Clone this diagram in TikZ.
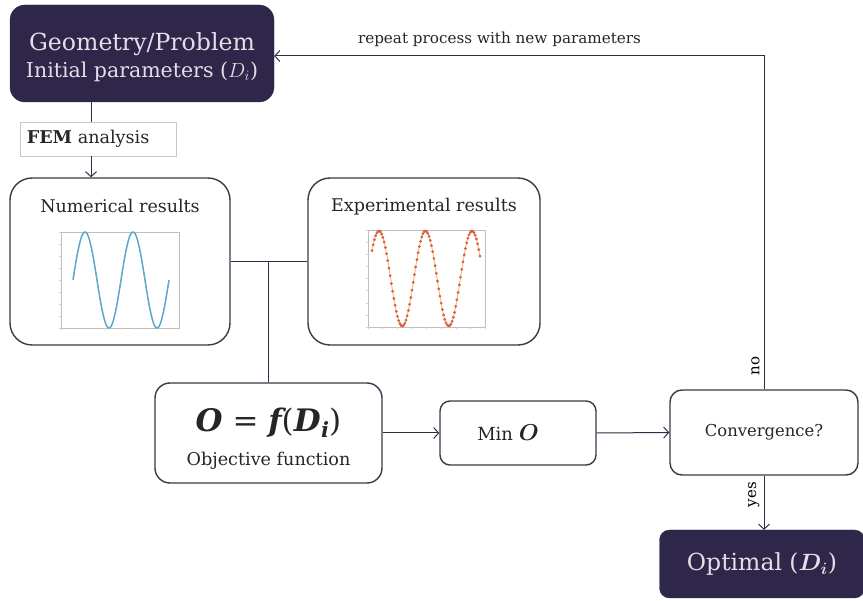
\documentclass[tikz,border=0pt]{standalone}
\usepackage{fix-cm}
\usepackage{amsmath}
\usepackage{bm}
\usepackage{fontspec}
\setmainfont{DejaVu Serif}
\usetikzlibrary{positioning,arrows.meta,calc}
\definecolor{boxpurple}{HTML}{2F2749}
\definecolor{boxtext}{HTML}{E2DFE8}
\definecolor{edgegray}{HTML}{3A3A4A}
\definecolor{linedark}{HTML}{2D2F45}
\definecolor{femgray}{HTML}{C8C8C8}
\definecolor{sineblue}{HTML}{5EA8CC}
\definecolor{dotred}{HTML}{D9603E}
\definecolor{dotorange}{HTML}{F4BE8C}
\definecolor{axisgray}{HTML}{C4BCBC}
\newcommand{\fsz}[1]{\fontsize{#1}{#1}\selectfont}
\newcommand{\bi}[1]{{\bfseries\itshape #1}}

\begin{document}
\begin{tikzpicture}[x=1pt, y=-1pt,
  darkbox/.style={fill=boxpurple, draw=boxpurple, rounded corners=#1,
    text=boxtext, align=center, inner sep=0pt},
  whitebox/.style={fill=white, draw=edgegray, line width=1.4pt,
    rounded corners=#1, align=center, inner sep=0pt, text=black!85},
  boxlabel/.style={inner sep=0pt, text=black!85},
  conn/.style={draw=linedark, line width=1pt},
  arr/.style={conn, -{Straight Barb[length=5pt, width=11pt]}},
  frame/.style={draw=axisgray, line width=0.5pt},
  tick/.style={draw=axisgray!70, line width=0.4pt}
]
\useasboundingbox (0,0) rectangle (863,601);

% boxes
\node[darkbox=15pt, minimum width=264pt, minimum height=97pt] (geo) at (142,53.5) {};
\node[boxlabel, text=boxtext] (geotitle) at ([yshift=9.5pt]geo.center)
  {\fsz{23.6}Geometry/Problem};
\node[boxlabel, text=boxtext] (geopar) at ([yshift=-18.5pt]geo.center)
  {\fsz{20.5}Initial parameters ($D_i$)};
\node[draw=femgray, fill=white, line width=0.8pt, minimum width=156pt, minimum height=34pt,
  inner sep=0pt] (fem) at (98,139) {};
\node[boxlabel, anchor=west] (femtxt) at ([xshift=7pt]fem.west)
  {\fsz{17.6}\textbf{FEM} analysis};
\node[whitebox=22pt, minimum width=220pt, minimum height=167pt] (num) at (120,261.5) {};
\node[whitebox=22pt, minimum width=232pt, minimum height=167pt] (exp) at (424,261.5) {};
\node[whitebox=15pt, minimum width=227pt, minimum height=100pt] (obj) at (268.5,433) {};
\node[boxlabel] (objeq) at ([yshift=10pt]obj.center)
  {\fsz{31}\bi{O} = \bi{f}(\bi{D}\kern0.5pt\raisebox{-5.5pt}{\fsz{21}\bi{i}})};
\node[boxlabel] (objtxt) at ([yshift=-28pt]obj.center)
  {\fsz{17.6}Objective function};
\node[whitebox=10pt, minimum width=156pt, minimum height=64pt] (minO) at (518,433) {};
\node[boxlabel] (mintxt) at ([xshift=-10pt]minO.center)
  {\fsz{18}Min \fsz{23}$\bm{O}$};
\node[whitebox=12pt, minimum width=188pt, minimum height=85pt] (conv) at (764,432.5)
  {\fsz{16.4}Convergence?};
\node[darkbox=10pt, minimum width=205pt, minimum height=68pt] (opt) at (762,564)
  {\fsz{23.5}Optimal ($\bm{D}_{\bm{i}}$)};

% titles of the result boxes
\node[boxlabel, below=29pt of num.north, anchor=center] (numtitle)
  {\fsz{17.5}Numerical results};
\node[boxlabel, below=29pt of exp.north, anchor=center] (exptitle)
  {\fsz{17.5}Experimental results};

% numerical plot
\draw[frame] (61,232) rectangle (179,328);
\foreach \t in {0,...,8}{
  \draw[tick] ({61+\t*14.75},328) -- ++(0,2);
  \draw[tick] (61,{232+\t*12}) -- ++(-2,0);
}
\draw[sineblue, line width=1.5pt] plot[domain=73:169, samples=120]
  (\x, {280-48*sin((\x-73)*7.5)});

% experimental plot
\draw[frame] (368,230) rectangle (485,327);
\foreach \t in {0,...,8}{
  \draw[tick] ({368+\t*14.625},327) -- ++(0,2);
  \draw[tick] (368,{230+\t*12.125}) -- ++(-2,0);
}
\begin{scope}
  \clip (368,229) rectangle (485,328);
  \draw[dotorange, line width=1pt] plot[domain=372:480, samples=120]
    (\x, {278.5-47.5*cos((\x-379)*7.742)});
  \fill[dotred] plot[only marks, mark=*, mark size=1.2pt, domain=372:480, samples=90]
    (\x, {278.5-47.5*cos((\x-379)*7.742)});
\end{scope}

% connectors
\draw[conn] ([xshift=-7pt]fem.north) -- ([xshift=-7pt]fem.north |- geo.south);
\draw[arr] ([xshift=-7pt]fem.south) -- ([xshift=-7pt]fem.south |- num.north);
\draw[conn] (num.east) -- (exp.west);
\draw[conn] (obj.north) -- (obj.north |- num.east);
\draw[arr] (obj.east) -- (minO.west);
\draw[arr] (minO.east) -- (conv.west);
\draw[arr] (conv.north) |- ([yshift=-2.5pt]geo.east)
  node[pos=0.035, rotate=90, anchor=south, inner sep=4pt] (nolbl) {\fsz{15}no}
  node[pos=0.77, above=6pt, text=black!85] (replbl) {\fsz{15.2}repeat process with new parameters};
\draw[arr] (conv.south) -- (conv.south |- opt.north)
  node[pos=0.35, rotate=90, anchor=south, inner sep=4pt] (yeslbl) {\fsz{15}yes};
\end{tikzpicture}
\end{document}
